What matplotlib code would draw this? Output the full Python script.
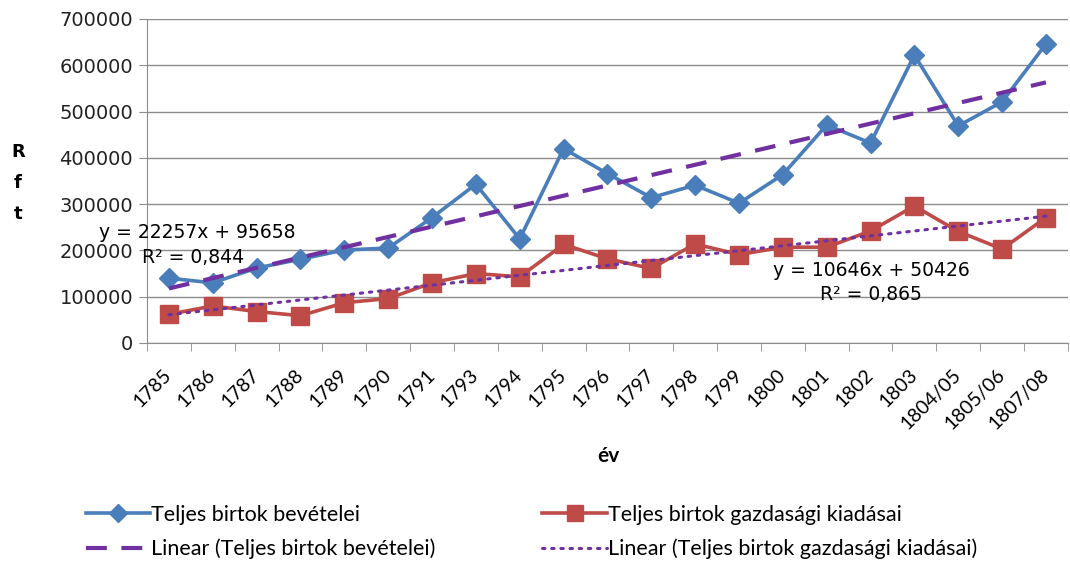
import matplotlib
matplotlib.use("Agg")
import matplotlib.pyplot as plt
from matplotlib.lines import Line2D

years = ['1785', '1786', '1787', '1788', '1789', '1790', '1791', '1793', '1794',
         '1795', '1796', '1797', '1798', '1799', '1800', '1801', '1802', '1803',
         '1804/05', '1805/06', '1807/08']
income = [140000, 130000, 162000, 181000, 201000, 205000, 271000, 343000, 225000,
          420000, 366000, 314000, 341000, 302000, 364000, 471000, 432000, 622000,
          469000, 521000, 646000]
expense = [62000, 80000, 68000, 59000, 87000, 96000, 130000, 150000, 143000,
           213000, 182000, 161000, 214000, 191000, 207000, 207000, 242000, 296000,
           241000, 203000, 271000]
# Excel trendline coefficients (x = 1..n)
trend_inc = (22257, 95658)
trend_exp = (10646, 50426)
eq_inc = ['y = 22257x + 95658', 'R² = 0,844']
eq_exp = ['y = 10646x + 50426', 'R² = 0,865']

narrow = ['Lato', 'DejaVu Sans']
blue = '#4A7EBB'
red = '#BE4B48'
purple = '#7030A0'

fig = plt.figure(figsize=(10.7, 5.63), dpi=100)
ax = fig.add_axes([147/1070, 1 - 343/563, 1 - 147/1070 - 0.002, (343 - 19)/563])

x = list(range(len(years)))
ax.plot(x, income, color=blue, lw=2.6, marker='D', ms=10, zorder=4)
ax.plot(x, expense, color=red, lw=2.6, marker='s', ms=13, zorder=4)

tx = [x[0], x[-1]]
ax.plot(tx, [trend_inc[0] * (i + 1) + trend_inc[1] for i in tx], color=purple,
        lw=3, ls=(0, (5, 3.5)), zorder=5)
ax.plot(tx, [trend_exp[0] * (i + 1) + trend_exp[1] for i in tx], color=purple,
        lw=2.2, ls=(0, (0.8, 2.2)), dash_capstyle='round', zorder=5)

ax.set_xlim(-0.5, len(years) - 0.5)
ax.set_ylim(0, 700000)
ax.set_yticks(range(0, 700001, 100000))
ax.set_yticklabels([str(v) for v in range(0, 700001, 100000)], fontsize=14,
                   color='#222222')
ax.yaxis.grid(True, color='#8C8C8C', lw=1)
ax.set_axisbelow(True)

ax.set_xticks(x)
ax.set_xticklabels(years, rotation=45, ha='right', va='center',
                   rotation_mode='anchor', fontsize=14, family=narrow)
ax.set_xticks([i - 0.5 for i in range(len(years) + 1)], minor=True)
ax.tick_params(axis='x', which='major', length=0, pad=21)
ax.tick_params(axis='x', which='minor', length=6, color='#8C8C8C')
ax.tick_params(axis='y', length=6, color='#8C8C8C', pad=4)

for s in ['top', 'right']:
    ax.spines[s].set_visible(False)
for s in ['left', 'bottom']:
    ax.spines[s].set_color('#8C8C8C')

fig.text(18/1070, 1 - 183/563, 'R\nf\nt', ha='center', va='center',
         fontsize=13, fontweight='bold', linespacing=1.9)
fig.text(608/1070, 1 - 456/563, 'év', ha='center', va='center', fontsize=15,
         fontweight='bold', family=narrow)

fig.text(197/1070, 1 - 233/563, eq_inc[0], ha='center', va='center', fontsize=13.5)
fig.text(193/1070, 1 - 258/563, eq_inc[1], ha='center', va='center', fontsize=13.5)
fig.text(871/1070, 1 - 270/563, eq_exp[0], ha='center', va='center', fontsize=13.5)
fig.text(871/1070, 1 - 295/563, eq_exp[1], ha='center', va='center', fontsize=13.5)

handles = [
    Line2D([], [], color=blue, lw=2.6, marker='D', ms=9),
    Line2D([], [], color=purple, lw=3, ls=(0, (5, 3.5))),
    Line2D([], [], color=red, lw=2.6, marker='s', ms=12),
    Line2D([], [], color=purple, lw=2.2, ls=(0, (0.8, 2.2)), dash_capstyle='round'),
]
labels = ['Teljes birtok bevételei', 'Linear (Teljes birtok bevételei)',
          'Teljes birtok gazdasági kiadásai', 'Linear (Teljes birtok gazdasági kiadásai)']
fig.legend(handles, labels, loc='upper left', bbox_to_anchor=(75/1070, 1 - 494/563),
           ncol=2, frameon=False, prop={'family': narrow, 'size': 15.5},
           borderpad=0, handlelength=3.0, handletextpad=0.05, columnspacing=4.95,
           labelspacing=0.65)

fig.savefig('out.png', dpi=100)
